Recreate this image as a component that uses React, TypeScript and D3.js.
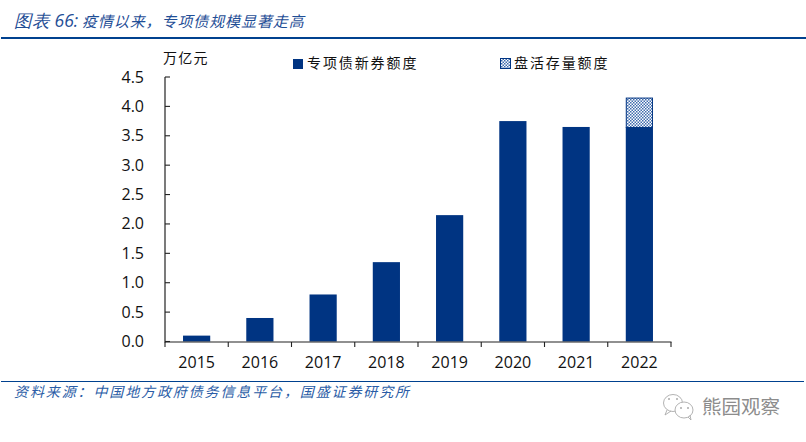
import React from "react";
import * as d3 from "d3";

const years = ["2015", "2016", "2017", "2018", "2019", "2020", "2021", "2022"];
const newIssue = [0.1, 0.4, 0.8, 1.35, 2.15, 3.75, 3.65, 3.65];
const existing = [0, 0, 0, 0, 0, 0, 0, 0.5];
const yTicks = [0, 0.5, 1, 1.5, 2, 2.5, 3, 3.5, 4, 4.5];
const seriesNames = ["专项债新券额度", "盘活存量额度"];
const titleLabel = "图表 66:";
const titleText = "疫情以来\uFF0C专项债规模显著走高";
const unit = "万亿元";
const source = "资料来源\uFF1A中国地方政府债务信息平台\uFF0C国盛证券研究所";
const watermark = "熊园观察";

const NAVY = "#003482";
const RULE = "#00418f";
const CJK = "'Noto Sans CJK SC', sans-serif";
const LATIN = "'Open Sans', 'Noto Sans', sans-serif";

export default function App() {
  const x = d3.scaleBand().domain(years).range([165, 671]).paddingInner(0.57).paddingOuter(0.285);
  const y = d3.scaleLinear().domain([0, 4.5]).range([341.5, 77]);
  const xEdges = d3.range(years.length + 1).map((i) => 165 + (i * (671 - 165)) / years.length);
  return (
    <svg width={806} height={442} style={{ position: "fixed", left: 0, top: 0, background: "#fff" }}>
      <defs>
        <pattern id="hatch" width={3} height={3} patternUnits="userSpaceOnUse">
          <rect width={3} height={3} fill="#fff" />
          <rect width={1.5} height={1.5} fill="#3f6cae" />
          <rect x={1.5} y={1.5} width={1.5} height={1.5} fill="#3f6cae" />
        </pattern>
      </defs>

      <text x={14} y={27} fontFamily={LATIN} fontSize={17.5} fontStyle="italic" fill="#1f4e96">{titleLabel}</text>
      <text x={82} y={27} fontFamily={CJK} fontSize={15} fontStyle="italic" fill="#1f4e96" letterSpacing={0.9}>{titleText}</text>
      <line x1={1} x2={806} y1={38} y2={38} stroke={RULE} strokeWidth={2} />

      <text x={163} y={63} fontFamily={CJK} fontSize={14} fill="#111" letterSpacing={1.2}>{unit}</text>

      <rect x={293} y={59} width={10} height={10} fill={NAVY} />
      <text x={307} y={68} fontFamily={CJK} fontSize={14} fill="#111" letterSpacing={1.9}>{seriesNames[0]}</text>
      <rect x={500.5} y={58.5} width={10} height={10} fill="url(#hatch)" stroke={NAVY} strokeWidth={1} />
      <text x={514} y={68} fontFamily={CJK} fontSize={14} fill="#111" letterSpacing={1.9}>{seriesNames[1]}</text>

      {years.map((yr, i) => (
        <g key={yr}>
          <rect x={x(yr)} y={y(newIssue[i])} width={x.bandwidth()} height={y(0) - y(newIssue[i])} fill={NAVY} />
          {existing[i] > 0 && (
            <rect
              x={x(yr)! + 0.5}
              y={y(newIssue[i] + existing[i]) + 0.5}
              width={x.bandwidth() - 1}
              height={y(newIssue[i]) - y(newIssue[i] + existing[i])}
              fill="url(#hatch)"
              stroke={NAVY}
              strokeWidth={1}
            />
          )}
        </g>
      ))}

      <line x1={165} x2={165} y1={77} y2={342.5} stroke="#222" strokeWidth={1.2} />
      <line x1={165} x2={671.5} y1={342} y2={342} stroke="#222" strokeWidth={1.2} />
      {yTicks.map((t) => (
        <g key={t}>
          <line x1={165} x2={170} y1={y(t)} y2={y(t)} stroke="#222" strokeWidth={1.1} />
          <text x={144} y={y(t) + 5.5} textAnchor="end" fontFamily={LATIN} fontSize={16} fill="#111">{t.toFixed(1)}</text>
        </g>
      ))}
      {xEdges.map((e) => (
        <line key={e} x1={e} x2={e} y1={342} y2={347} stroke="#222" strokeWidth={1.1} />
      ))}
      {years.map((yr) => (
        <text key={yr} x={x(yr)! + x.bandwidth() / 2} y={367.5} textAnchor="middle" fontFamily={LATIN} fontSize={16} fill="#111">{yr}</text>
      ))}

      <line x1={1} x2={804} y1={381.5} y2={381.5} stroke={RULE} strokeWidth={1.2} />
      <text x={14} y={397} fontFamily={CJK} fontSize={14} fontStyle="italic" fill="#2a5ca6" letterSpacing={1.88}>{source}</text>

      <g fill="none" stroke="#aaa" strokeWidth={0.9}>
        <ellipse cx={673} cy={403} rx={9.5} ry={8.5} />
        <path d="M667 410 L665 415 L671 411" />
        <ellipse cx={684} cy={410} rx={9} ry={8} fill="#fff" />
        <path d="M688 417 L691 420 L690 415" />
      </g>
      <g fill="#aaa">
        <circle cx={669} cy={399} r={1} />
        <circle cx={677} cy={399} r={1} />
        <circle cx={681} cy={408} r={1} />
        <circle cx={688} cy={408} r={1} />
      </g>
      <text x={702} y={414} fontFamily={CJK} fontSize={19.5} fill="#8c8c8c">{watermark}</text>
    </svg>
  );
}
